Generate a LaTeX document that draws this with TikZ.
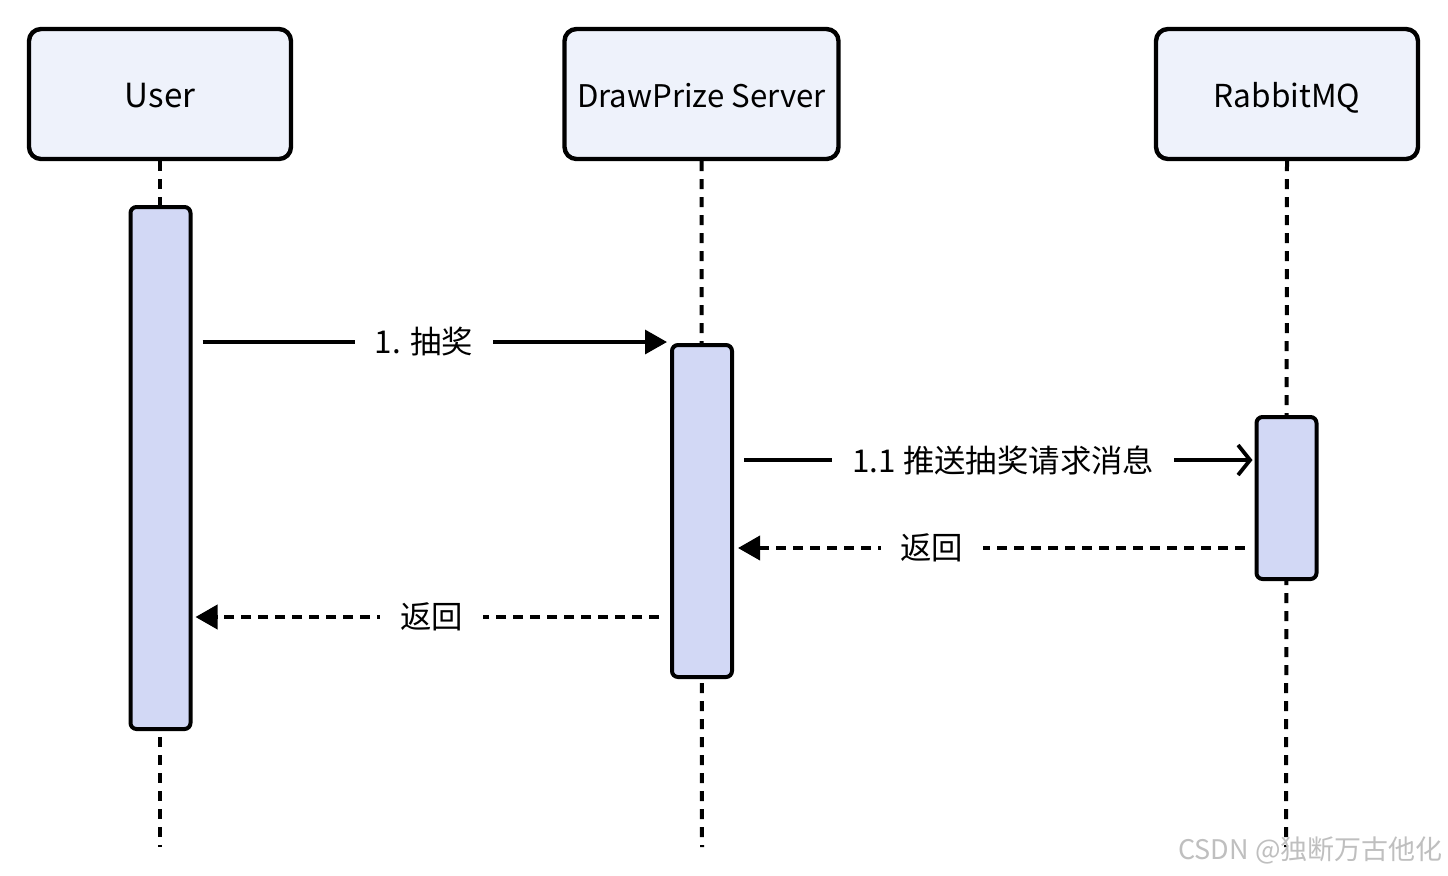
\documentclass[tikz,border=0pt]{standalone}
\usepackage{fontspec}
\setmainfont{Noto Sans CJK SC}
\usetikzlibrary{arrows.meta,calc}
\definecolor{boxfill}{HTML}{EEF2FB}
\definecolor{actfill}{HTML}{D2D8F5}
\begin{document}
\begin{tikzpicture}[x=0.5pt,y=-0.5pt,
  actor/.style={draw=black,line width=2.2pt,rounded corners=6pt,fill=boxfill,
    minimum width=132pt,minimum height=65pt,inner sep=0pt,
    text height=13pt,text depth=0pt,font=\fontsize{15.8}{19}\selectfont},
  act/.style={draw=black,line width=2pt,rounded corners=3pt,fill=actfill,
    minimum width=30pt,inner sep=0pt},
  life/.style={line width=2pt,dash pattern=on 5pt off 4pt},
  callmsg/.style={line width=1.7pt,-{Triangle[length=11pt,width=12pt]}},
  pushmsg/.style={line width=1.8pt,-{Straight Barb[length=6pt,width=15pt,line width=1.9pt]}},
  retmsg/.style={line width=1.9pt,dash pattern=on 5pt off 3.5pt,-{Triangle[length=11pt,width=12pt]}},
  lbl/.style={fill=white,inner xsep=10pt,inner ysep=4pt,font=\fontsize{15.7}{18}\selectfont}]
\useasboundingbox (0,0) rectangle (1448,875);
\fill[white] (0,0) rectangle (1448,875);

% actors
\node[actor,minimum width=131pt,font=\fontsize{16.6}{19}\selectfont] (user) at (160,94) {User};
\node[actor,minimum width=137pt,font=\fontsize{15.6}{19}\selectfont] (server) at (701.5,94) {DrawPrize Server};
\node[actor,minimum width=131pt] (mq) at (1287,94) {RabbitMQ};

% lifeline ends
\coordinate (userend) at (160,847);
\coordinate (serverend) at (702,847);
\coordinate (mqend) at (1286,847);

\draw[life] (user.south) -- (userend);
\draw[life] (server.south) -- (serverend);
\draw[life] (mq.south) -- (mqend);

% activations
\node[act,minimum height=261pt] (uact) at (160.5,468) {};
\node[act,minimum height=166pt] (sact) at (702,511) {};
\node[act,minimum height=81pt] (mact) at (1286.5,498) {};

% messages
\draw[callmsg] ([xshift=5pt]uact.east |- 0,342) -- ([xshift=-1.5pt]sact.west |- 0,342)
  node[lbl,pos=0.477] {1. 抽奖};
\draw[pushmsg] ([xshift=5pt]sact.east |- 0,460) -- ([xshift=-1pt]mact.west |- 0,460)
  node[lbl,pos=0.51] {1.1 推送抽奖请求消息};
\draw[retmsg] ([xshift=-5pt]mact.west |- 0,548) -- ([xshift=2pt]sact.east |- 0,548)
  node[lbl,pos=0.617] {返回};
\draw[retmsg] ([xshift=-5.5pt]sact.west |- 0,617) -- ([xshift=1.5pt]uact.east |- 0,617)
  node[lbl,pos=0.49] {返回};

% watermark
\node[anchor=east,text=gray!50,font=\fontsize{13.5}{16}\selectfont,inner sep=0pt] (wm) at (1443,850) {CSDN @独断万古他化};
\end{tikzpicture}
\end{document}
